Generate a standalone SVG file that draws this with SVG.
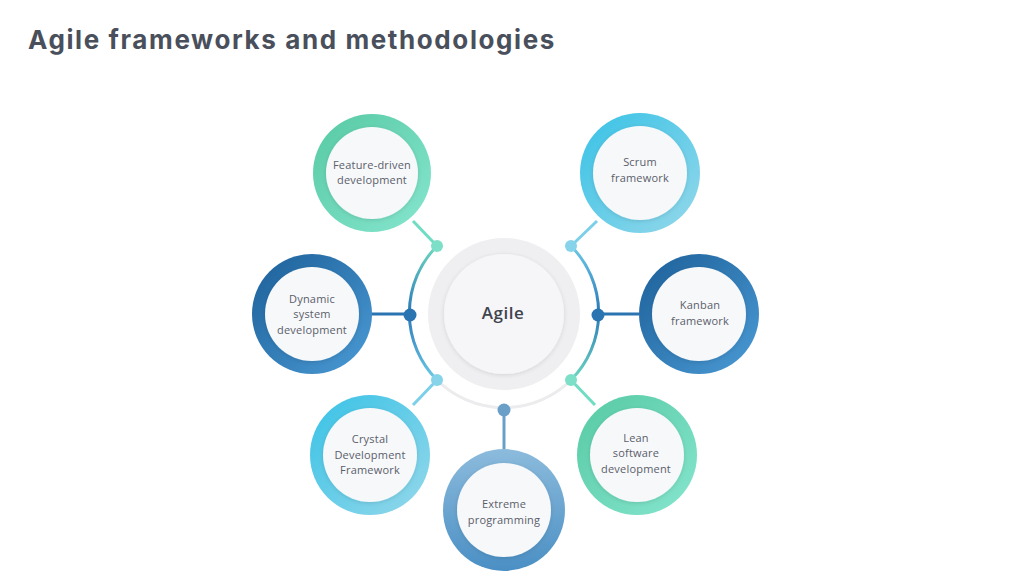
<svg xmlns="http://www.w3.org/2000/svg" width="1024" height="588" viewBox="0 0 1024 588">
<defs>
<linearGradient id="gTeal" x1="0" y1="0" x2="1" y2="1"><stop offset="0" stop-color="#57c9a3"/><stop offset="1" stop-color="#86e6cf"/></linearGradient>
<linearGradient id="gLight" x1="0" y1="0" x2="1" y2="1"><stop offset="0" stop-color="#38c2e6"/><stop offset="1" stop-color="#95d8ea"/></linearGradient>
<linearGradient id="gDark" x1="0" y1="0" x2="1" y2="1"><stop offset="0" stop-color="#1c5f98"/><stop offset="1" stop-color="#4b9bd6"/></linearGradient>
<linearGradient id="gMid" x1="0" y1="0" x2="0" y2="1"><stop offset="0" stop-color="#8cbbdc"/><stop offset="1" stop-color="#4a8fc4"/></linearGradient>
<linearGradient id="gArcL" gradientUnits="userSpaceOnUse" x1="0" y1="246" x2="0" y2="380"><stop offset="0" stop-color="#6dd8c0"/><stop offset="0.5" stop-color="#2a78b8"/><stop offset="1" stop-color="#6cc9e6"/></linearGradient>
<linearGradient id="gArcR" gradientUnits="userSpaceOnUse" x1="0" y1="246" x2="0" y2="380"><stop offset="0" stop-color="#6cc9e6"/><stop offset="0.5" stop-color="#2a78b8"/><stop offset="1" stop-color="#6dd8c0"/></linearGradient>
<filter id="sh" x="-20%" y="-20%" width="140%" height="140%"><feDropShadow dx="0" dy="1" stdDeviation="2" flood-color="#000" flood-opacity="0.12"/></filter>
</defs>
<style>
.title{font-family:Inter,"Liberation Sans",sans-serif;font-weight:700;font-size:26px;letter-spacing:1.6px;fill:#4a4f5c}
.lbl{font-family:"Open Sans","Liberation Sans",sans-serif;font-size:11px;letter-spacing:0.2px;fill:#5a5e6a;text-anchor:middle}
.inner{fill:#f7f8fa;filter:url(#sh)}
.dot{stroke:none}
</style>
<rect width="1024" height="588" fill="#ffffff"/>
<text class="title" x="28" y="49">Agile frameworks and methodologies</text>

<g id="connectors" fill="none" stroke-width="3">
<path d="M437 246 A95 95 0 0 0 437 380" stroke="url(#gArcL)"/>
<path d="M571 246 A95 95 0 0 1 571 380" stroke="url(#gArcR)"/>
<path d="M437 380 A95 95 0 0 0 571 380" stroke="#ececee"/>
<line x1="413" y1="221" x2="437" y2="246" stroke="#6fdcc3"/>
<line x1="597" y1="221" x2="571" y2="246" stroke="#7ccfe8"/>
<line x1="371" y1="314" x2="410" y2="314" stroke="#2a74b2"/>
<line x1="598" y1="314" x2="639" y2="314" stroke="#2a74b2"/>
<line x1="413" y1="405" x2="437" y2="380" stroke="#7ccfe8"/>
<line x1="595" y1="405" x2="571" y2="380" stroke="#6fdcc3"/>
<line x1="504" y1="410" x2="504" y2="452" stroke="#6a9fc8"/>
<circle class="dot" cx="437" cy="246" r="6" fill="#7ddfc8"/>
<circle class="dot" cx="571" cy="246" r="6" fill="#86d3ea"/>
<circle class="dot" cx="410" cy="315" r="6.5" fill="#2a74b2"/>
<circle class="dot" cx="598" cy="315" r="6.5" fill="#2a74b2"/>
<circle class="dot" cx="437" cy="380" r="6" fill="#86d3ea"/>
<circle class="dot" cx="571" cy="380" r="6" fill="#7ddfc8"/>
<circle class="dot" cx="504" cy="410" r="6.5" fill="#6a9fc8"/>
</g>

<g id="agile">
<circle cx="504" cy="314" r="76" fill="#efeff1"/>
<circle cx="504" cy="314" r="60" fill="#f6f6f8" filter="url(#sh)"/>
<text x="503" y="319" text-anchor="middle" font-family="'Open Sans','Liberation Sans',sans-serif" font-size="17" font-weight="600" letter-spacing="0.5" fill="#40444f">Agile</text>
</g>

<g id="feature">
<circle cx="372" cy="173" r="59" fill="url(#gTeal)"/>
<circle class="inner" cx="372" cy="173" r="46"/>
<text class="lbl" x="372" y="169">Feature-driven</text>
<text class="lbl" x="372" y="184">development</text>
</g>

<g id="scrum">
<circle cx="640" cy="173" r="60" fill="url(#gLight)"/>
<circle class="inner" cx="640" cy="173" r="47"/>
<text class="lbl" x="640" y="166">Scrum</text>
<text class="lbl" x="640" y="182">framework</text>
</g>

<g id="dynamic">
<circle cx="312" cy="314" r="60" fill="url(#gDark)"/>
<circle class="inner" cx="312" cy="314" r="47"/>
<text class="lbl" x="312" y="303">Dynamic</text>
<text class="lbl" x="312" y="318">system</text>
<text class="lbl" x="312" y="334">development</text>
</g>

<g id="kanban">
<circle cx="699" cy="314" r="60" fill="url(#gDark)"/>
<circle class="inner" cx="699" cy="314" r="47"/>
<text class="lbl" x="700" y="309">Kanban</text>
<text class="lbl" x="700" y="325">framework</text>
</g>

<g id="crystal">
<circle cx="370" cy="455" r="60" fill="url(#gLight)"/>
<circle class="inner" cx="370" cy="455" r="47"/>
<text class="lbl" x="370" y="443">Crystal</text>
<text class="lbl" x="370" y="459">Development</text>
<text class="lbl" x="370" y="474">Framework</text>
</g>

<g id="lean">
<circle cx="637" cy="455" r="60" fill="url(#gTeal)"/>
<circle class="inner" cx="637" cy="455" r="47"/>
<text class="lbl" x="636" y="442">Lean</text>
<text class="lbl" x="636" y="457">software</text>
<text class="lbl" x="636" y="473">development</text>
</g>

<g id="extreme">
<circle cx="504" cy="510" r="61" fill="url(#gMid)"/>
<circle class="inner" cx="504" cy="510" r="47"/>
<text class="lbl" x="504" y="508">Extreme</text>
<text class="lbl" x="504" y="524">programming</text>
</g>
</svg>
